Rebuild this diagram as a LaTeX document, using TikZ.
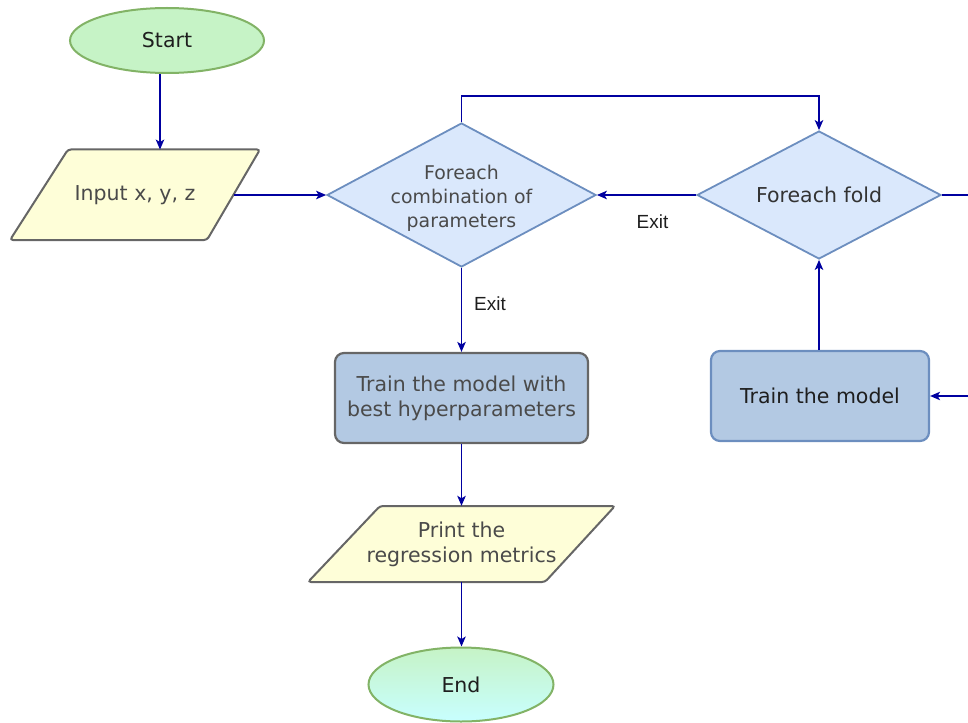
\documentclass[tikz,border=0pt]{standalone}
\usepackage{fontspec}
\setmainfont{DejaVu Sans}
\newfontfamily\exitfont{Liberation Sans}
\usetikzlibrary{shapes.geometric,arrows.meta}
\definecolor{termfill}{HTML}{C6F3C6}
\definecolor{termborder}{HTML}{82B366}
\definecolor{endbottom}{HTML}{C8FFFF}
\definecolor{iofill}{HTML}{FEFED8}
\definecolor{grayborder}{HTML}{666666}
\definecolor{decfill}{HTML}{DAE8FC}
\definecolor{blueborder}{HTML}{6C8EBF}
\definecolor{procfill}{HTML}{B3C9E3}
\definecolor{flowblue}{HTML}{0000A0}
\definecolor{darktext}{HTML}{1E1E1E}
\definecolor{graytext}{HTML}{4A4A4A}
\definecolor{midtext}{HTML}{333333}
\begin{document}
\begin{tikzpicture}[x=1pt,y=-1pt,
  basefont/.style={font=\fontsize{20.5}{25}\selectfont},
  terminal/.style={ellipse, draw=termborder, line width=2pt, fill=termfill,
    inner sep=0pt, text=darktext, basefont},
  decision/.style={diamond, draw=blueborder, fill=decfill, line width=1.8pt,
    inner sep=0pt, align=center},
  process/.style={rectangle, rounded corners=9pt, line width=2.2pt, fill=procfill,
    inner sep=0pt, align=center, basefont},
  iobox/.style={draw=grayborder, fill=iofill, line width=2pt, rounded corners=3pt},
  iotext/.style={draw=none, inner sep=0pt, align=center, text=graytext, basefont},
  flowline/.style={draw=flowblue, line width=1.3pt},
  flow/.style={flowline, -{Stealth[length=10pt,width=8.5pt,inset=2.5pt]}},
  exitlbl/.style={font=\exitfont\fontsize{19}{22}\selectfont, text=darktext, inner sep=0pt}
]
\useasboundingbox (0,0) rectangle (968,722);

% Start
\node[terminal, minimum width=194pt, minimum height=65pt] (start) at (167,40.5) {Start};

% Input parallelogram
\draw[iobox] (10,240) -- (68,149.5) -- (260,149.5) -- (207,240) -- cycle;
\node[iotext, minimum width=197pt, minimum height=90.5pt] (input) at (135,195) {Input x, y, z};

% Decisions
\node[decision, minimum width=269pt, minimum height=144pt, aspect=1.87, text=graytext,
  font=\fontsize{18.9}{24}\selectfont] (d1) at (461.5,195)
  {\raisebox{-8.3pt}[0pt][0pt]{\makebox[0pt]{\begin{tabular}{@{}c@{}}Foreach\\combination of\\parameters\end{tabular}}}};
\node[decision, minimum width=244pt, minimum height=128pt, aspect=1.9, text=midtext,
  basefont] (d2) at (819,195) {Foreach fold};

% Processes
\node[process, draw=grayborder, text=graytext, minimum width=253pt, minimum height=90pt]
  (trainbest) at (461.5,398) {Train the model with\\best hyperparameters};
\node[process, draw=blueborder, text=darktext, minimum width=218pt, minimum height=90pt]
  (trainmodel) at (820,396) {Train the model};

% Print parallelogram
\draw[iobox] (308,582) -- (380,506) -- (615,506) -- (545,582) -- cycle;
\node[iotext, minimum width=307pt, minimum height=76pt] (print) at (461.5,544) {Print the\\regression metrics};

% End
\node[terminal, shading=axis, top color=termfill, bottom color=endbottom,
  minimum width=185pt, minimum height=74pt] (end) at (461,684.5) {End};

% Labels
\node[exitlbl] (exit1) at (490,303.5) {Exit};
\node[exitlbl] (exit2) at (652.5,222) {Exit};

% Coordinates
\coordinate (a1) at (160,0);
\coordinate (rightout) at (968,195);
\coordinate (rightin) at (968,396);

% Connectors
\draw[flow] (start.south -| a1) -- (input.north -| a1);
\draw[flow] (input.east) -- (d1.west);
\draw[flow] (d1.north) -- ++(0,-26) -| (d2.north);
\draw[flow] (d2.west) -- (d1.east);
\draw[flowline] (d2.east) -- (rightout);
\draw[flow] (rightin) -- (trainmodel.east);
\draw[flow] (d2.south |- trainmodel.north) -- (d2.south);
\draw[flow] (d1.south) -- (d1.south |- trainbest.north);
\draw[flow] (trainbest.south) -- (trainbest.south |- print.north);
\draw[flow] (print.south) -- (print.south |- end.north);
\end{tikzpicture}
\end{document}
